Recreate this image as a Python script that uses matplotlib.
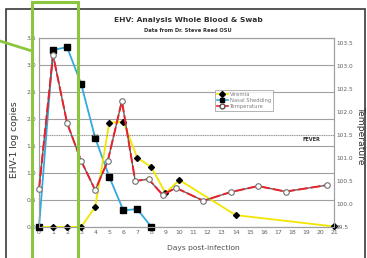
import matplotlib
matplotlib.use('Agg')
import matplotlib.pyplot as plt
from matplotlib.patches import Rectangle
from matplotlib.lines import Line2D

# data
days = [0, 1, 2, 3, 4, 5, 6, 7, 8, 9, 10, 14, 21]
viremia = [0.0, 0.0, 0.0, 0.0, 0.37, 1.93, 1.95, 1.28, 1.11, 0.63, 0.87, 0.22, 0.01]

nasal_days = [0, 1, 2, 3, 4, 5, 6, 7, 8]
nasal = [0.0, 3.28, 3.33, 2.65, 1.65, 0.93, 0.31, 0.33, 0.0]

temp_days = [0, 1, 2, 3, 4, 4.9, 5.9, 6.85, 7.8, 8.8, 9.75, 11.7, 13.65, 15.6, 17.55, 20.5]
temperature = [100.33, 103.24, 101.76, 100.94, 100.3, 100.94, 102.24, 100.5, 100.54,
               100.2, 100.35, 100.07, 100.26, 100.39, 100.27, 100.41]

left_ticks = [0.0, 0.5, 1.0, 1.5, 2.0, 2.5, 3.0, 3.5]
right_ticks = [99.5, 100.0, 100.5, 101.0, 101.5, 102.0, 102.5, 103.0, 103.5]
fever = 101.5

W, H = 367, 258
fig = plt.figure(figsize=(W / 100, H / 100), dpi=100)
fig.patch.set_facecolor('white')

ax = fig.add_axes([39 / W, 1 - 227 / H, 295 / W, 189 / H])
ax2 = ax.twinx()

grid_c = '#a0a0a0'
tick_c = '#606060'

ax.set_xlim(0, 21)
ax.set_ylim(0, 3.5)
ax2.set_ylim(99.5, 99.5 + 189 / 46)

ax.set_yticks(left_ticks)
ax.set_yticklabels(['%.1f' % v for v in left_ticks])
ax2.set_yticks(right_ticks)
ax2.set_yticklabels(['%.1f' % v for v in right_ticks])
ax.set_xticks(range(0, 22))

for a in (ax, ax2):
    a.tick_params(length=0, labelsize=4.4, labelcolor=tick_c, pad=2)
    for s in a.spines.values():
        s.set_color(grid_c)
        s.set_linewidth(0.8)
ax2.tick_params(pad=1.5, labelsize=4.2)
ax.yaxis.grid(True, color=grid_c, linewidth=0.8)
ax.set_axisbelow(True)

# fever line + label
ax2.axhline(fever, color='#909090', linestyle=(0, (1, 0.6)), linewidth=0.8)
ax2.text(19.4, fever - 0.04, 'FEVER', fontsize=3.6, fontweight='bold',
         color='#303030', ha='center', va='top')

yel = '#f2e600'
blu = '#35a9dd'
red = '#e8232b'

ax.plot(nasal_days, nasal, color=blu, linewidth=1.3, marker='s', markersize=4,
        markerfacecolor='black', markeredgecolor='black', clip_on=False, zorder=4)
ax.plot(days, viremia, color=yel, linewidth=1.3, marker='D', markersize=3,
        markerfacecolor='black', markeredgecolor='black', clip_on=False, zorder=5)

ax2.plot(temp_days, temperature, color='#606060', linewidth=1.0, zorder=3)
ax2.plot(temp_days, temperature, color=red, linewidth=1.4, linestyle=(0, (5, 1.6)),
         marker='o', markersize=4, markerfacecolor='white', markeredgecolor='#707070',
         markeredgewidth=0.8, clip_on=False, zorder=4)

handles = [
    Line2D([], [], color=yel, marker='D', markersize=3, markerfacecolor='black',
           markeredgecolor='black', linewidth=1.2),
    Line2D([], [], color=blu, marker='s', markersize=3.5, markerfacecolor='black',
           markeredgecolor='black', linewidth=1.2),
    Line2D([], [], color=red, marker='o', markersize=3.5, markerfacecolor='white',
           markeredgecolor='#505050', linewidth=1.2),
]
leg = ax2.legend(handles, ['Viremia', 'Nasal Shedding', 'Temperature'],
                 loc='upper left', bbox_to_anchor=((215 - 39) / 295, (227 - 90) / 189),
                 fontsize=3.8, frameon=True, fancybox=False, handlelength=2.2,
                 handletextpad=0.4, borderpad=0.3, labelspacing=0.25, borderaxespad=0)
leg.get_frame().set_edgecolor('#a0a0a0')
leg.get_frame().set_linewidth(0.7)
for t in leg.get_texts():
    t.set_color('#808080')

# titles and axis labels
fig.text(188 / W, 1 - 20 / H, 'EHV: Analysis Whole Blood & Swab', fontsize=5.4,
         fontweight='bold', color='#303030', ha='center', va='center')
fig.text(188 / W, 1 - 30 / H, 'Data from Dr. Steve Reed OSU', fontsize=3.7,
         fontweight='bold', color='#303030', ha='center', va='center')
fig.text(15 / W, 1 - 140 / H, 'EHV-1 log copies', fontsize=6.6, color='#303030',
         rotation=90, ha='center', va='center')
fig.text(360 / W, 1 - 136 / H, 'Temperature', fontsize=6.6, color='#303030',
         rotation=270, ha='center', va='center')
fig.text(203 / W, 1 - 248 / H, 'Days post-infection', fontsize=5.4, color='#505050',
         ha='center', va='center')

# slide frame and green highlight drawn on top
fig.patches.append(Rectangle((5.5 / W, -0.1), (365 - 5.5) / W, 1.1 - 9 / H,
                             transform=fig.transFigure, fill=False,
                             edgecolor='#3a3a3a', linewidth=1.2))
green = '#8cc63f'
fig.patches.append(Rectangle((32 / W, -0.1), 46 / W, 1.1 - 2 / H,
                             transform=fig.transFigure, fill=False,
                             edgecolor=green, linewidth=2.2, zorder=10))
fig.lines.append(Line2D([0, 32 / W], [1 - 41 / H, 1 - 51 / H], transform=fig.transFigure,
                        color=green, linewidth=2.0, zorder=10))

fig.savefig('out.png', dpi=100)
